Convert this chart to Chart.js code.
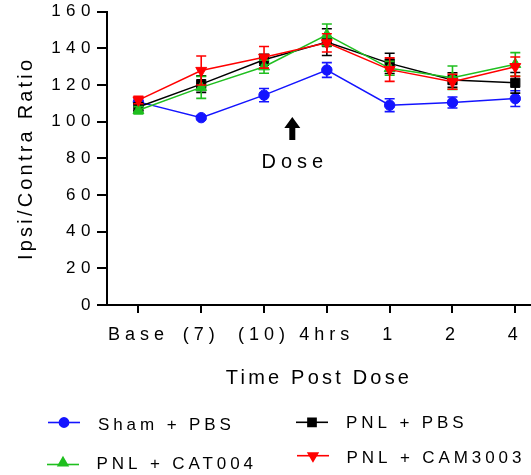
<!DOCTYPE html>
<html>
<head>
<meta charset="utf-8">
<script src="https://cdn.jsdelivr.net/npm/chart.js@4.4.1/dist/chart.umd.min.js"></script>
<style>
  html, body { margin: 0; padding: 0; background: #fff; }
  canvas { display: block; }
</style>
</head>
<body>
<canvas id="c" width="531" height="475" style="width:531px;height:475px"></canvas>
<script>
// ---- data ----
const categories = ['Base', '(7)', '(10)', '4hrs', '1', '2', '4'];
const seriesNames = ['Sham + PBS', 'PNL + PBS', 'PNL + CAT004', 'PNL + CAM3003'];

const shamPBS       = [110.8, 102.2, 114.5, 128.2, 109.0, 110.5, 112.6];
const shamPBSErr    = [2.2, 1.0, 3.6, 4.0, 3.5, 3.0, 4.3];
const pnlPBS        = [108.0, 120.5, 133.8, 143.4, 131.8, 122.7, 121.2];
const pnlPBSErr     = [2.0, 4.5, 3.0, 7.3, 5.5, 4.0, 5.6];
const pnlCAT004     = [106.2, 118.7, 130.0, 147.4, 129.1, 124.0, 131.3];
const pnlCAT004Err  = [2.0, 6.0, 3.6, 5.9, 3.8, 6.4, 6.4];
const pnlCAM3003    = [111.8, 127.9, 135.1, 143.0, 128.4, 121.8, 130.0];
const pnlCAM3003Err = [2.0, 7.9, 5.9, 5.0, 6.4, 4.1, 5.3];

const yTickValues = [0, 20, 40, 60, 80, 100, 120, 140, 160];

// ---- styling ----
const FONT = "'Liberation Sans', Arial, Helvetica, sans-serif";
Chart.defaults.font.family = FONT;
Chart.defaults.color = '#000';

const LS = { x: '5px', y: '5.5px', title: '3.2px' };
const origDrawLabels = Chart.Scale.prototype.drawLabels;
Chart.Scale.prototype.drawLabels = function (ca) {
  const ctx = this.ctx; const prev = ctx.letterSpacing;
  ctx.letterSpacing = LS[this.id] || '0px';
  origDrawLabels.call(this, ca);
  ctx.letterSpacing = prev || '0px';
};
const origDrawTitle = Chart.Scale.prototype.drawTitle;
Chart.Scale.prototype.drawTitle = function () {
  const ctx = this.ctx; const prev = ctx.letterSpacing;
  ctx.letterSpacing = LS.title;
  origDrawTitle.call(this);
  ctx.letterSpacing = prev || '0px';
};

function pts(arr) { return arr.map((v, i) => ({ x: i, y: v })); }

const datasets = [
  { label: seriesNames[0], data: pts(shamPBS), errors: shamPBSErr, color: '#1414ff',
    pointStyle: 'circle', pointRadius: 5.2, rotation: 0, order: 4 },
  { label: seriesNames[1], data: pts(pnlPBS), errors: pnlPBSErr, color: '#000000',
    pointStyle: 'rect', pointRadius: 6.5, rotation: 0, order: 3 },
  { label: seriesNames[2], data: pts(pnlCAT004), errors: pnlCAT004Err, color: '#1fbf1f',
    pointStyle: 'triangle', pointRadius: 6.3, rotation: 0, order: 2 },
  { label: seriesNames[3], data: pts(pnlCAM3003), errors: pnlCAM3003Err, color: '#ff0000',
    pointStyle: 'triangle', pointRadius: 6.3, rotation: 180, order: 1 }
].map(d => ({
  label: d.label, data: d.data, errors: d.errors, order: d.order,
  borderColor: d.color, backgroundColor: d.color,
  pointBackgroundColor: d.color, pointBorderColor: d.color,
  pointStyle: d.pointStyle, pointRadius: d.pointRadius, pointRotation: d.rotation,
  pointBorderWidth: 1, pointHoverRadius: d.pointRadius,
  borderWidth: 1.5, tension: 0, fill: false
}));

// error bars, drawn under each dataset's own line and markers
const errorBars = {
  id: 'errorBars',
  beforeDatasetDraw(chart, args) {
    const ds = chart.data.datasets[args.index];
    const ys = chart.scales.y;
    const ctx = chart.ctx;
    ctx.save();
    ctx.strokeStyle = ds.borderColor;
    ctx.lineWidth = 1.6;
    args.meta.data.forEach((el, i) => {
      const v = ds.data[i].y, e = ds.errors[i];
      const t = ys.getPixelForValue(v + e), b = ys.getPixelForValue(v - e);
      const x = el.x, cw = 5;
      ctx.beginPath();
      ctx.moveTo(x, t); ctx.lineTo(x, b);
      ctx.moveTo(x - cw, t); ctx.lineTo(x + cw, t);
      ctx.moveTo(x - cw, b); ctx.lineTo(x + cw, b);
      ctx.stroke();
    });
    ctx.restore();
  }
};

// "Dose" arrow annotation and custom two-column legend
const extras = {
  id: 'extras',
  afterDraw(chart) {
    const ctx = chart.ctx;
    const xs = chart.scales.x;
    ctx.save();
    // arrow
    const ax = xs.getPixelForValue(2.45);
    ctx.fillStyle = '#000';
    ctx.beginPath();
    ctx.moveTo(ax, 117);
    ctx.lineTo(ax + 8, 128);
    ctx.lineTo(ax + 3, 128);
    ctx.lineTo(ax + 3, 140);
    ctx.lineTo(ax - 3, 140);
    ctx.lineTo(ax - 3, 128);
    ctx.lineTo(ax - 8, 128);
    ctx.closePath();
    ctx.fill();
    // Dose text
    ctx.font = '20px ' + FONT;
    ctx.letterSpacing = '5px';
    ctx.textAlign = 'left';
    ctx.textBaseline = 'middle';
    const dw = ctx.measureText('Dose').width - 5;
    ctx.fillText('Dose', ax - dw / 2, 162);

    // legend
    const pos = [
      { x0: 48, x1: 80, ly: 422.5, tx: 98, ty: 425 },
      { x0: 296, x1: 328, ly: 422.3, tx: 346, ty: 423.3 },
      { x0: 47, x1: 79, ly: 464.5, tx: 96.5, ty: 464 },
      { x0: 297, x1: 329, ly: 455.7, tx: 346.5, ty: 458 }
    ];
    ctx.font = '17px ' + FONT;
    ctx.letterSpacing = '3.9px';
    chart.data.datasets.forEach((ds, i) => {
      const p = pos[i];
      ctx.strokeStyle = ds.borderColor;
      ctx.lineWidth = 1.6;
      ctx.beginPath(); ctx.moveTo(p.x0, p.ly); ctx.lineTo(p.x1, p.ly); ctx.stroke();
      ctx.fillStyle = ds.backgroundColor;
      Chart.helpers.drawPoint(ctx, {
        pointStyle: ds.pointStyle, rotation: ds.pointRotation,
        radius: ds.pointRadius * 0.88, borderWidth: 1
      }, (p.x0 + p.x1) / 2, ds.pointStyle === 'triangle' && ds.pointRotation === 0 ? p.ly - 1.5 : p.ly);
      ctx.fillStyle = '#000';
      ctx.fillText(ds.label, p.tx, p.ty);
    });
    ctx.restore();
  }
};

const X_MIN = -0.5, X_MAX = 6.25;

new Chart(document.getElementById('c'), {
  type: 'line',
  data: { datasets },
  options: {
    responsive: false,
    devicePixelRatio: 1,
    animation: false,
    events: [],
    layout: { autoPadding: false, padding: { top: 0, right: 0, bottom: 80, left: 0 } },
    plugins: { legend: { display: false }, tooltip: { enabled: false } },
    scales: {
      x: {
        type: 'linear', min: X_MIN, max: X_MAX, bounds: 'data',
        afterBuildTicks: s => {
          s.ticks = categories.map((_, i) => ({ value: i }));
          s.min = X_MIN; s.max = X_MAX;
        },
        afterFit: s => { s.height = 90; s.paddingLeft = 0; s.paddingRight = 0; },
        ticks: {
          autoSkip: false, maxRotation: 0, minRotation: 0, padding: 0,
          font: { size: 18, lineHeight: 2.44 }, color: '#000',
          callback: (v, i) => categories[i]
        },
        grid: { drawOnChartArea: false, drawTicks: true, tickLength: 8, color: '#000', lineWidth: 2 },
        border: { display: true, color: '#000', width: 2 },
        title: { display: true, text: 'Time Post Dose', font: { size: 20 }, color: '#000',
                 padding: { top: 0, bottom: 5 } }
      },
      y: {
        min: 0, max: 160,
        afterBuildTicks: s => { s.ticks = yTickValues.map(v => ({ value: v })); },
        afterFit: s => { s.width = 107; s.paddingTop = 11.7; },
        ticks: { padding: 1, font: { size: 17 }, color: '#000' },
        grid: { drawOnChartArea: false, drawTicks: true, tickLength: 10, color: '#000', lineWidth: 2 },
        border: { display: true, color: '#000', width: 2 },
        title: { display: true, text: 'Ipsi/Contra Ratio', font: { size: 20 }, color: '#000',
                 padding: { top: 14, bottom: 0 } }
      }
    }
  },
  plugins: [errorBars, extras]
});
</script>
</body>
</html>
